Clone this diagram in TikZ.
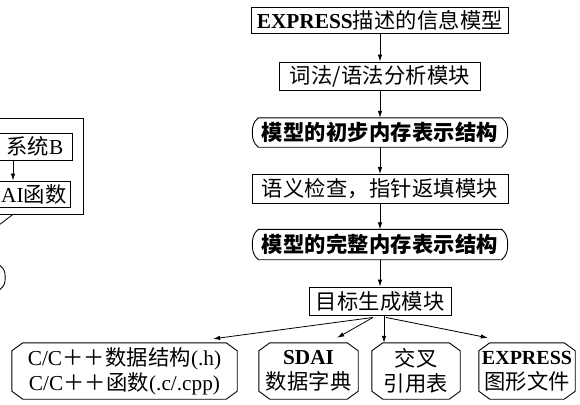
\documentclass[tikz,border=0pt]{standalone}
\usepackage{fontspec}
\setmainfont{Liberation Serif}
\newfontfamily\cjkf[LetterSpace=1]{Noto Sans CJK SC}
\newcommand{\zh}[1]{{\cjkf #1}}
\usetikzlibrary{calc,arrows.meta}
\newcommand{\brackbox}[1]{\draw[line width=0.9pt] ($(#1.north west)+(6,0)$) -- ($(#1.north east)+(-6,0)$) .. controls ($(#1.north east)+(-1,4)$) and ($(#1.east)+(0,-6)$) .. (#1.east) .. controls ($(#1.east)+(0,6)$) and ($(#1.south east)+(-1,-4)$) .. ($(#1.south east)+(-6,0)$) -- ($(#1.south west)+(6,0)$) .. controls ($(#1.south west)+(1,-4)$) and ($(#1.west)+(0,6)$) .. (#1.west) .. controls ($(#1.west)+(0,-6)$) and ($(#1.north west)+(1,4)$) .. cycle;}
\newcommand{\octbox}[1]{\draw[line width=0.9pt] ($(#1.north west)+(11,0)$) -- ($(#1.north east)+(-11,0)$) -- ($(#1.north east)+(0,8)$) -- ($(#1.south east)+(0,-8)$) -- ($(#1.south east)+(-11,0)$) -- ($(#1.south west)+(11,0)$) -- ($(#1.south west)+(0,-8)$) -- ($(#1.north west)+(0,8)$) -- cycle;}
\begin{document}
\begin{tikzpicture}[x=1pt,y=-1pt,
  txt/.style={inner sep=0pt, font=\fontsize{21.3}{25}\selectfont},
  rbox/.style={txt, draw, line width=0.9pt},
  plain/.style={txt},
  arr/.style={-{Latex[length=7pt,width=4.5pt]}, line width=0.8pt},
  ln/.style={line width=0.8pt}]
\useasboundingbox (0,0) rectangle (580,404);
\clip (0,0) rectangle (580,404);
\fill[white] (0,0) rectangle (580,404);

% main column
\node[rbox, minimum width=257pt, minimum height=26pt] (b1) at (380,20) {{\bfseries EXPRESS}\zh{描述的信息模型}};
\node[rbox, minimum width=201pt, minimum height=28pt] (b2) at (380,76) {\zh{词法/语法分析模块}};
\node[plain, minimum width=255pt, minimum height=29pt] (b3) at (380,132.5) {\bfseries\zh{模型的初步内存表示结构}};
\brackbox{b3}
\node[rbox, minimum width=256pt, minimum height=29pt] (b4) at (380,189) {\zh{语义检查，指针返填模块}};
\node[plain, minimum width=255pt, minimum height=30pt] (b5) at (380,244.5) {\bfseries\zh{模型的完整内存表示结构}};
\brackbox{b5}
\node[rbox, minimum width=142pt, minimum height=28pt] (b6) at (380,301) {\zh{目标生成模块}};

\foreach \a/\b in {b1/b2,b2/b3,b3/b4,b4/b5,b5/b6}
  \draw[arr] (\a) -- (\b);

% bottom outputs
\node[plain, minimum width=225pt, minimum height=56pt, align=center] (cc) at (124.5,371) {C/C\zh{＋＋数据结构}(.h)\\C/C\zh{＋＋函数}(.c/.cpp)};
\node[plain, minimum width=99pt, minimum height=56pt, align=center] (sd) at (308.5,371) {{\bfseries SDAI}\\\zh{数据字典}};
\node[plain, minimum width=88pt, minimum height=56pt, align=center] (xr) at (416,371) {\zh{交叉}\\\zh{引用表}};
\node[plain, minimum width=96pt, minimum height=56pt, align=center] (ex) at (527,371) {{\fontsize{20}{25}\selectfont\bfseries EXPRESS}\\\zh{图形文件}};
\octbox{cc}\octbox{sd}\octbox{xr}\octbox{ex}

\coordinate (jl) at ($(b6.south)+(-7,2)$);
\coordinate (jm) at ($(b6.south)+(4,0)$);
\coordinate (jr) at ($(b6.south)+(6,2)$);
\draw[arr] (jl) -- ($(cc.north east)+(-24,-4)$);
\draw[arr] (jl) -- ($(sd.north east)+(-21,-5)$);
\draw[arr] (jm) -- (jm |- xr.north);
\draw[arr] (jr) -- ($(ex.north west)+(9,-5)$);

% partial group at the left edge
\coordinate (bx) at (1,0);
\node[draw, ln, minimum width=128pt, minimum height=96pt] (grp) at (19,166) {};
\node[rbox, minimum width=132pt, minimum height=27pt] (sysb) at (6,146.5) {};
\node[txt, anchor=east] (sysbt) at ($(sysb.east)+(-9,0)$) {\zh{系统}B};
\node[rbox, minimum width=130pt, minimum height=26pt] (sdf) at (5,194) {};
\node[txt, anchor=west] (sdft) at (sdf.west -| bx) {AI\zh{函数}};
\coordinate (ax) at (13,0);
\draw[arr] (sysb.south -| ax) -- (sdf.north -| ax);
\coordinate (lk) at (-13,234);
\draw[ln] (grp.south -| ax) -- (lk);
\node[plain, minimum width=130pt, minimum height=25pt] (prev) at (-60,277.5) {};
\brackbox{prev}
\end{tikzpicture}
\end{document}
